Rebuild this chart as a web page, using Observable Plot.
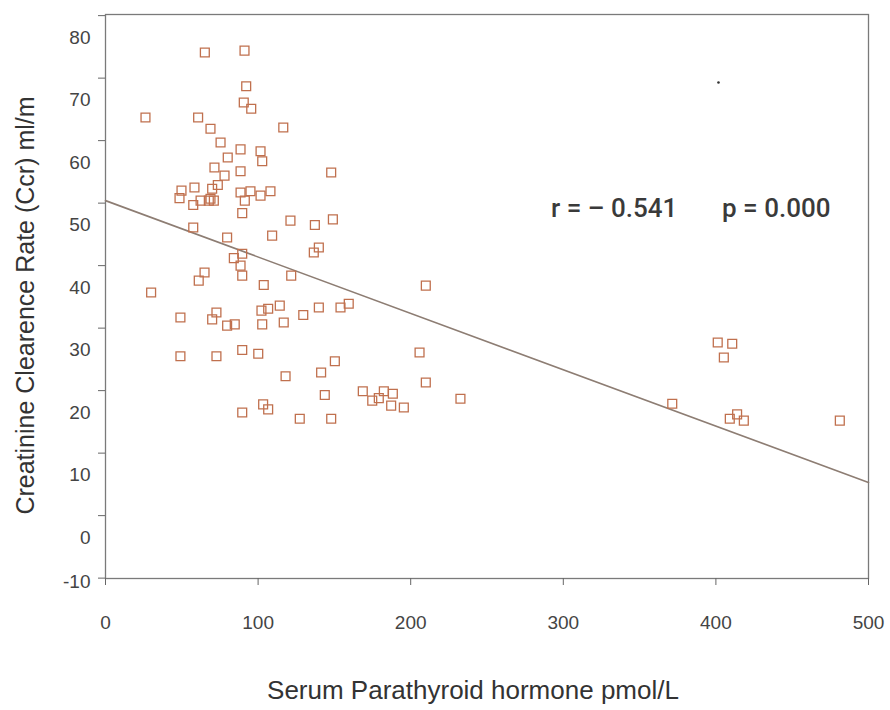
<!DOCTYPE html>
<html>
<head>
<meta charset="utf-8">
<script src="https://cdn.jsdelivr.net/npm/d3@7"></script>
<script src="https://cdn.jsdelivr.net/npm/@observablehq/plot@0.6"></script>
<style>
  html, body { margin: 0; padding: 0; background: #fff; }
  #chart { width: 890px; height: 710px; }
</style>
</head>
<body>
<div id="chart"></div>
<script>
// Serum PTH (pmol/L) values
const pth = [65.1, 91.1, 92.2, 90.6, 95.5, 26.2, 60.7, 116.5, 68.8, 75.4,
  88.5, 101.6, 102.7, 80.1, 71.4, 88.5, 78.0, 73.6, 58.3, 49.8,
  48.5, 69.9, 68.8, 67.7, 71.0, 62.3, 57.5, 88.5, 95.0, 91.3,
  101.6, 108.1, 89.6, 121.2, 57.5, 79.7, 109.2, 89.6, 84.1, 88.5,
  89.6, 121.7, 64.9, 61.1, 103.7, 29.9, 72.7, 69.9, 49.1, 79.7,
  84.7, 102.2, 106.6, 114.2, 102.7, 116.8, 129.6, 49.1, 72.7, 89.6,
  100.1, 118.0, 89.6, 103.3, 106.6, 127.3, 147.9, 137.2, 149.0, 139.8,
  136.5, 209.9, 139.8, 154.0, 159.4, 205.8, 141.3, 150.3, 209.9, 143.7,
  168.6, 174.8, 179.1, 182.4, 188.3, 187.2, 195.5, 147.9, 232.6, 401.2,
  410.7, 405.2, 371.4, 409.1, 413.9, 418.3, 481.2];
// Creatinine clearance rate (ml/min) values
const ccr = [77.6, 77.9, 72.2, 69.6, 68.6, 67.2, 67.2, 65.6, 65.4, 63.2,
  62.1, 61.8, 60.2, 60.8, 59.2, 58.6, 57.9, 56.4, 56.0, 55.5,
  54.3, 55.8, 54.2, 53.9, 53.9, 53.9, 53.2, 55.2, 55.4, 53.9,
  54.7, 55.4, 51.9, 50.7, 49.6, 48.0, 48.3, 45.4, 44.7, 43.5,
  41.9, 41.9, 42.4, 41.1, 40.4, 39.2, 36.0, 34.9, 35.2, 33.9,
  34.1, 36.3, 36.6, 37.1, 34.1, 34.4, 35.6, 29.0, 29.0, 30.0,
  29.4, 25.8, 20.0, 21.3, 20.5, 19.0, 58.4, 50.0, 50.9, 46.4,
  45.6, 40.3, 36.8, 36.8, 37.4, 29.6, 26.4, 28.2, 24.8, 22.8,
  23.4, 21.9, 22.3, 23.4, 23.0, 21.1, 20.8, 19.0, 22.2, 31.2,
  31.0, 28.8, 21.4, 19.0, 19.7, 18.7, 18.7];

// Regression line end points
const fitX = [0, 500];
const fitY = [53.9, 8.8];

// stray dot in the figure
const strayX = [401.7];
const strayY = [72.8];

// Axis ticks / labels
const xTicks = [0, 100, 200, 300, 400, 500];
const yTickLabels = [0, 10, 20, 30, 40, 50, 60, 70, 80];
const yBottomLabel = ["-10"];
const yTickMarks = [-6.5, 3.5, 13.5, 23.5, 33.5, 43.5, 53.5, 63.5, 73.5, 83.5];
const yDomain = [-6.56, 83.68];
const xDomain = [0, 500];

// Annotation
const statsText = ["r = \u2013 0.541", "p = 0.000"];
const statsX = [292, 404];
const statsY = [52.6, 52.6];

const xTitle = "Serum Parathyroid hormone pmol/L";
const yTitle = "Creatinine Clearence Rate (Ccr) ml/m";

const points = pth.map((v, i) => ({x: v, y: ccr[i]}));
const fit = fitX.map((v, i) => ({x: v, y: fitY[i]}));
const stray = strayX.map((v, i) => ({x: v, y: strayY[i]}));
const stats = statsText.map((t, i) => ({x: statsX[i], y: statsY[i], t}));

const font = "'Liberation Sans', Arial, sans-serif";

const chart = Plot.plot({
  width: 890,
  height: 710,
  marginLeft: 105,
  marginRight: 22,
  marginTop: 14,
  marginBottom: 132,
  style: {fontFamily: font, background: "#fff", color: "#444", overflow: "visible"},
  x: {domain: xDomain},
  y: {domain: yDomain},
  marks: [
    Plot.frame({stroke: "#7a7a7a", strokeWidth: 1.3}),
    Plot.axisX({ticks: xTicks, tickSize: 7, tickPadding: 30, fontSize: 19, label: null, stroke: "#666", fill: "#444"}),
    Plot.axisY({ticks: yTickLabels, tickSize: 0, tickPadding: 15, fontSize: 19, label: null, fill: "#444"}),
    Plot.axisY({ticks: yTickMarks, tickSize: 7, tickFormat: () => "", label: null, stroke: "#666"}),
    Plot.text(yBottomLabel, {frameAnchor: "bottom-left", text: d => d, textAnchor: "end", lineAnchor: "middle", dx: -15, dy: 3, fontSize: 19, fill: "#444"}),
    Plot.line(fit, {x: "x", y: "y", stroke: "#8d7d73", strokeWidth: 1.6}),
    Plot.dot(points, {x: "x", y: "y", symbol: "square", r: 5, stroke: "#c0704e", strokeWidth: 1.3, fill: "none"}),
    Plot.dot(stray, {x: "x", y: "y", r: 1.3, fill: "#333", stroke: "none"}),
    Plot.text(stats, {x: "x", y: "y", text: "t", textAnchor: "start", lineAnchor: "middle", fontSize: 26, fontFamily: "Roboto, 'Liberation Sans', sans-serif", fontWeight: 500, fill: "#3a3a3a"}),
    Plot.text([xTitle], {frameAnchor: "bottom", text: d => d, textAnchor: "middle", lineAnchor: "middle", dx: -14, dy: 112, fontSize: 26, fill: "#333"}),
    Plot.text([yTitle], {frameAnchor: "left", text: d => d, textAnchor: "middle", lineAnchor: "middle", rotate: -90, dx: -80, dy: 9, fontSize: 25, fill: "#333"})
  ]
});

document.getElementById("chart").appendChild(chart);
</script>
</body>
</html>
